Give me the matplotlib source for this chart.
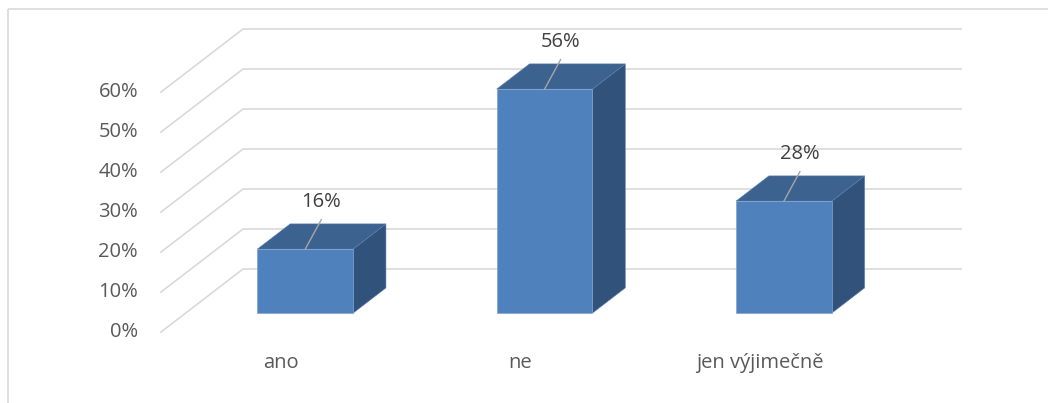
import matplotlib
matplotlib.use("Agg")
import matplotlib.pyplot as plt
from matplotlib.patches import Polygon

# --- data ---
categories = ["ano", "ne", "jen výjimečně"]
values = [0.16, 0.56, 0.28]
value_labels = ["16%", "56%", "28%"]
y_ticks = [0.0, 0.1, 0.2, 0.3, 0.4, 0.5, 0.6]
y_tick_labels = ["0%", "10%", "20%", "30%", "40%", "50%", "60%"]

# --- oblique 3-D projection (pixel space of the canvas) ---
W, H = 1048, 403
ORIGIN_X, ORIGIN_Y = 161.0, 332.0      # front-left corner of the floor
FLOOR_W = 718.0                        # width of the front edge of the floor
VAL_SCALE = 400.0                      # pixels per 1.0 (100 %)
DEPTH_DX, DEPTH_DY = 82.0, -63.0       # receding direction of the depth axis
n_cat = len(categories)
cat_w = FLOOR_W / n_cat


def proj(u, v, d):
    """u: category units, v: value, d: depth in [0, 1]."""
    x = ORIGIN_X + u * cat_w + d * DEPTH_DX
    y = ORIGIN_Y - v * VAL_SCALE + d * DEPTH_DY
    return (x, y)


fig = plt.figure(figsize=(W / 100, H / 100), dpi=100)
ax = fig.add_axes([0, 0, 1, 1])
ax.set_xlim(0, W)
ax.set_ylim(H, 0)
ax.axis("off")

FONT = "Open Sans"
GRID_C = "#D9D9D9"
TEXT_C = "#595959"

# chart frame
ax.plot([8, W + 5], [9, 9], color=GRID_C, lw=1.2, solid_capstyle="butt")
ax.plot([8, 8], [9, H + 5], color=GRID_C, lw=1.2, solid_capstyle="butt")

# gridlines: side wall diagonal + back wall horizontal
for v in y_ticks:
    p0 = proj(0, v, 0)
    p1 = proj(0, v, 1)
    p2 = proj(n_cat, v, 1)
    ax.plot([p0[0], p1[0], p2[0]], [p0[1], p1[1], p2[1]],
            color=GRID_C, lw=1.2, solid_joinstyle="miter", zorder=1)

# value axis labels
for v, lab in zip(y_ticks, y_tick_labels):
    x, y = proj(0, v, 0)
    ax.text(x - 23, y, lab, ha="right", va="center", fontsize=14.5,
            color=TEXT_C, family=FONT)

# bars
FRONT_C = "#4F81BD"
TOP_C = "#3C6290"
SIDE_C = "#31527A"
half = 0.2            # gap width 150 % -> bar occupies 0.4 of a category
d0, d1 = 0.3, 0.7     # bar extent along depth

for i, (v, lab) in enumerate(zip(values, value_labels)):
    uc = i + 0.5
    ul, ur = uc - half, uc + half
    front = [proj(ul, 0, d0), proj(ur, 0, d0), proj(ur, v, d0), proj(ul, v, d0)]
    top = [proj(ul, v, d0), proj(ur, v, d0), proj(ur, v, d1), proj(ul, v, d1)]
    side = [proj(ur, 0, d0), proj(ur, 0, d1), proj(ur, v, d1), proj(ur, v, d0)]
    ax.add_patch(Polygon(side, closed=True, facecolor=SIDE_C,
                         edgecolor="#5A7DA8", lw=0.4, zorder=3))
    ax.add_patch(Polygon(top, closed=True, facecolor=TOP_C,
                         edgecolor="#5A7DA8", lw=0.4, zorder=3))
    ax.add_patch(Polygon(front, closed=True, facecolor=FRONT_C,
                         edgecolor="#7FA3D3", lw=0.5, zorder=4))

    # data label with leader line
    bx, by = proj(uc, v, d0)
    lx, ly = bx + 16, by - 47
    ax.plot([bx, lx], [by, ly + 17.5], color="#A6A6A6", lw=1.0, zorder=5)
    ax.text(lx, ly, lab, ha="center", va="center", fontsize=14.5,
            color="#404040", family=FONT, zorder=6)

# category labels
for i, cat in enumerate(categories):
    x, y = proj(i + 0.5, 0, 0)
    ax.text(x, y + 31, cat, ha="center", va="center", fontsize=14.5,
            color=TEXT_C, family=FONT)

fig.savefig("out.png", dpi=100, facecolor="white")
